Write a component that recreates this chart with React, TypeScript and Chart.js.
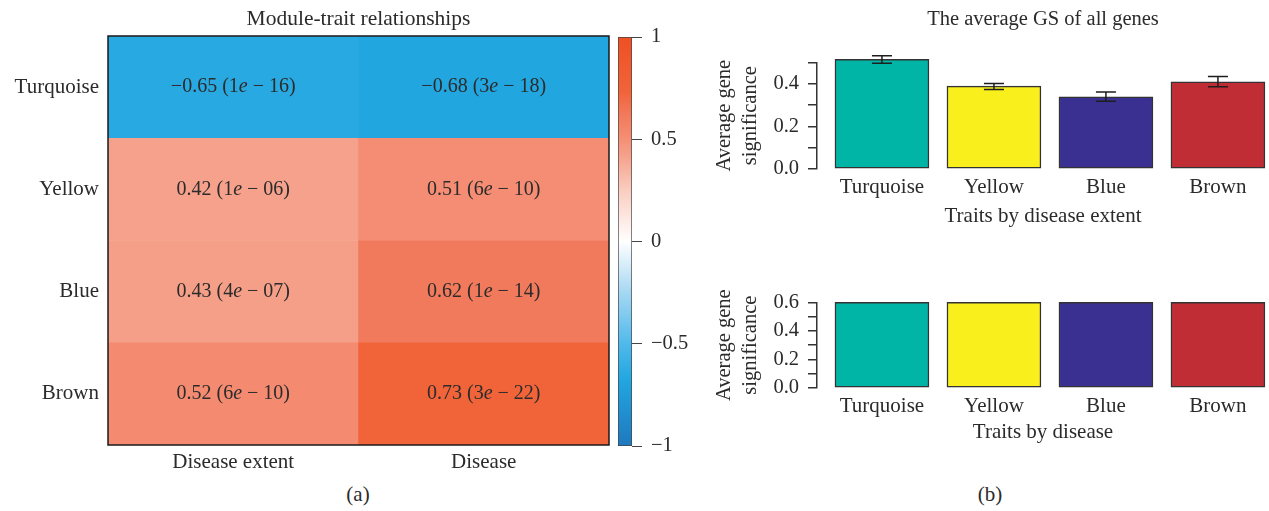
import React, { useEffect, useRef } from 'react';
import { Chart, registerables } from 'chart.js';

Chart.register(...registerables);

const FONT = "'Liberation Serif', 'Times New Roman', serif";
const TEXT = '#2b2b2b';

// ---------- heatmap data ----------
const heatRows = ['Turquoise', 'Yellow', 'Blue', 'Brown'];
const heatCols = ['Disease extent', 'Disease'];
const corrExtent = [-0.65, 0.42, 0.43, 0.52];
const corrDisease = [-0.68, 0.51, 0.62, 0.73];
const pExtent = ['1e-16', '1e-06', '4e-07', '6e-10'];
const pDisease = ['3e-18', '6e-10', '1e-14', '3e-22'];

// ---------- colour scale ----------
const cbarMin = -1;
const cbarMax = 1;
const cbarStep = 0.5;
const cmapStops = [-1, -0.68, -0.65, -0.5, -0.25, 0, 0.25, 0.42, 0.52, 0.62, 0.73, 1];
const cmapColors = [
  [31, 120, 190], [34, 166, 224], [41, 169, 225], [80, 185, 235], [165, 215, 242],
  [255, 255, 255], [250, 205, 192], [245, 161, 139], [244, 139, 112], [242, 122, 92],
  [241, 100, 58], [238, 80, 35],
];

// ---------- bar chart data ----------
const modules = ['Turquoise', 'Yellow', 'Blue', 'Brown'];
const moduleColors = ['#00B5A6', '#F9EF1C', '#3A3091', '#C02D34'];
const gsExtent = [0.514, 0.388, 0.338, 0.409];
const gsExtentLow = [0.496, 0.372, 0.317, 0.386];
const gsExtentHigh = [0.531, 0.401, 0.361, 0.433];
const gsDisease = [0.6, 0.6, 0.6, 0.6];

function cmap(v: number): string {
  const x = Math.max(cmapStops[0], Math.min(cmapStops[cmapStops.length - 1], v));
  for (let i = 0; i < cmapStops.length - 1; i++) {
    const a = cmapStops[i], b = cmapStops[i + 1];
    if (x >= a && x <= b) {
      const t = b === a ? 0 : (x - a) / (b - a);
      const c = cmapColors[i].map((c0, k) => Math.round(c0 + (cmapColors[i + 1][k] - c0) * t));
      return `rgb(${c[0]},${c[1]},${c[2]})`;
    }
  }
  return 'rgb(255,255,255)';
}

function fmtSigned(v: number, digits: number): string {
  const s = Math.abs(v).toFixed(digits);
  return v < 0 ? '\u2212' + s : s;
}

const cellTextPlugin = {
  id: 'cellText',
  afterDatasetsDraw(chart: any) {
    const ctx = chart.ctx;
    const normal = `20px ${FONT}`;
    const italic = `italic 20px ${FONT}`;
    chart.data.datasets.forEach((ds: any, di: number) => {
      const meta = chart.getDatasetMeta(di);
      meta.data.forEach((el: any, ci: number) => {
        const lab = ds.cellLabels[ci];
        const [mant, exp] = lab.p.split('e-');
        const p1 = `${fmtSigned(lab.r, 2)} (${mant}`;
        const p2 = 'e';
        const p3 = ` \u2212 ${exp})`;
        ctx.save();
        ctx.textBaseline = 'middle';
        ctx.fillStyle = TEXT;
        ctx.font = normal;
        const w1 = ctx.measureText(p1).width;
        const w3 = ctx.measureText(p3).width;
        ctx.font = italic;
        const w2 = ctx.measureText(p2).width;
        const total = w1 + w2 + w3;
        const cy = (el.y + el.base) / 2;
        let x = el.x - total / 2;
        ctx.textAlign = 'left';
        ctx.font = normal;
        ctx.fillText(p1, x, cy);
        x += w1;
        ctx.font = italic;
        ctx.fillText(p2, x, cy);
        x += w2;
        ctx.font = normal;
        ctx.fillText(p3, x, cy);
        ctx.restore();
      });
    });
  },
};

const frameBorderPlugin = {
  id: 'frameBorder',
  afterDraw(chart: any) {
    const { ctx, chartArea: a } = chart;
    ctx.save();
    ctx.strokeStyle = '#1a1a1a';
    ctx.lineWidth = 1.5;
    ctx.strokeRect(a.left, a.top, a.right - a.left, a.bottom - a.top);
    ctx.restore();
  },
};

function makeErrorBars(low: number[], high: number[]) {
  return {
    id: 'errorBars',
    afterDatasetsDraw(chart: any) {
      const ctx = chart.ctx;
      const ys = chart.scales.y;
      const meta = chart.getDatasetMeta(0);
      ctx.save();
      ctx.strokeStyle = '#1e1e1e';
      ctx.lineWidth = 1.5;
      meta.data.forEach((el: any, i: number) => {
        const yl = ys.getPixelForValue(low[i]);
        const yh = ys.getPixelForValue(high[i]);
        const x = el.x;
        const cap = 10;
        ctx.beginPath();
        ctx.moveTo(x, yl);
        ctx.lineTo(x, yh);
        ctx.moveTo(x - cap, yl);
        ctx.lineTo(x + cap, yl);
        ctx.moveTo(x - cap, yh);
        ctx.lineTo(x + cap, yh);
        ctx.stroke();
      });
      ctx.restore();
    },
  };
}

function barOptions(opts: {
  max: number;
  title?: string;
  titlePad?: { top: number; bottom: number };
  padTop: number;
  xTitle: string;
  xTitlePadBottom: number;
  xHeight: number;
}): any {
  return {
    responsive: false,
    animation: false,
    devicePixelRatio: 1,
    layout: { padding: { top: opts.padTop, left: 0, right: 0, bottom: 0 }, autoPadding: false },
    plugins: {
      legend: { display: false },
      tooltip: { enabled: false },
      title: opts.title
        ? {
            display: true,
            text: opts.title,
            fullSize: false,
            color: TEXT,
            font: { family: FONT, size: 20.5, weight: 'normal', lineHeight: 1.2 },
            padding: opts.titlePad,
          }
        : { display: false },
    },
    scales: {
      x: {
        type: 'linear',
        offset: false,
        min: -0.58,
        max: 3.456,
        grid: { display: false, offset: false, drawTicks: false },
        border: { display: false },
        afterBuildTicks: (s: any) => {
          s.ticks = modules.map((_, i) => ({ value: i }));
        },
        afterFit: (s: any) => {
          s.height = opts.xHeight;
          s.paddingLeft = 0;
          s.paddingRight = 0;
        },
        ticks: {
          autoSkip: false,
          maxRotation: 0,
          padding: 6,
          color: TEXT,
          font: { family: FONT, size: 21, lineHeight: 1.2 },
          callback: (v: number) => modules[Math.round(v)] ?? '',
        },
        title: {
          display: true,
          text: opts.xTitle,
          color: TEXT,
          font: { family: FONT, size: 21, lineHeight: 1.2 },
          padding: { top: 0, bottom: opts.xTitlePadBottom },
        },
      },
      y: {
        min: 0,
        max: opts.max,
        grid: {
          display: true,
          drawOnChartArea: false,
          drawTicks: true,
          tickLength: 9,
          color: '#333',
          lineWidth: 1.5,
        },
        border: { display: true, color: '#333', width: 1.5 },
        afterFit: (s: any) => {
          s.width = 117;
        },
        ticks: {
          stepSize: 0.1,
          autoSkip: false,
          padding: 9,
          color: TEXT,
          font: { family: FONT, size: 20.5 },
          callback: (v: number) => {
            const n = Math.round(v * 10);
            return n % 2 === 0 ? (n / 10).toFixed(1) : '';
          },
        },
        title: {
          display: true,
          text: ['Average gene', 'significance'],
          color: TEXT,
          font: { family: FONT, size: 20.5, lineHeight: 1.27 },
          padding: { top: 12, bottom: 0 },
        },
      },
    },
  };
}

export default function App() {
  const heatRef = useRef<HTMLCanvasElement>(null);
  const cbarRef = useRef<HTMLCanvasElement>(null);
  const bar1Ref = useRef<HTMLCanvasElement>(null);
  const bar2Ref = useRef<HTMLCanvasElement>(null);

  useEffect(() => {
    Chart.defaults.font.family = FONT;
    Chart.defaults.color = TEXT;
    const charts: Chart[] = [];

    // ---------- heatmap ----------
    const heatDatasets = heatRows
      .map((_, row) => row)
      .reverse()
      .map((row) => ({
        label: heatRows[row],
        data: heatCols.map(() => 1),
        backgroundColor: [cmap(corrExtent[row]), cmap(corrDisease[row])],
        borderWidth: 0,
        barPercentage: 1,
        categoryPercentage: 1,
        stack: 'cells',
        cellLabels: [
          { r: corrExtent[row], p: pExtent[row] },
          { r: corrDisease[row], p: pDisease[row] },
        ],
      }));

    charts.push(
      new Chart(heatRef.current as HTMLCanvasElement, {
        type: 'bar',
        data: { labels: heatCols, datasets: heatDatasets as any },
        options: {
          responsive: false,
          animation: false,
          devicePixelRatio: 1,
          layout: { padding: { top: 0, left: 0, right: 11, bottom: 0 }, autoPadding: false },
          plugins: {
            legend: { display: false },
            tooltip: { enabled: false },
            title: {
              display: true,
              text: 'Module-trait relationships',
              fullSize: false,
              color: TEXT,
              font: { family: FONT, size: 21.5, weight: 'normal', lineHeight: 1.2 },
              padding: { top: 6, bottom: 4.2 },
            },
          },
          scales: {
            x: {
              stacked: true,
              grid: { display: false, drawTicks: false },
              border: { display: false },
              afterFit: (s: any) => {
                s.height = 35;
              },
              ticks: { padding: 5, color: TEXT, font: { family: FONT, size: 21, lineHeight: 1.2 } },
            },
            y: {
              stacked: true,
              min: 0,
              max: heatRows.length,
              grid: { display: false, drawTicks: false },
              border: { display: false },
              afterBuildTicks: (s: any) => {
                s.ticks = heatRows.map((_, i) => ({ value: i + 0.5 }));
              },
              afterFit: (s: any) => {
                s.width = 108;
              },
              ticks: {
                autoSkip: false,
                padding: 9,
                color: TEXT,
                font: { family: FONT, size: 21 },
                callback: (v: number) => heatRows[heatRows.length - 1 - Math.floor(v)],
              },
            },
          },
        } as any,
        plugins: [cellTextPlugin, frameBorderPlugin],
      })
    );

    // ---------- colour bar ----------
    charts.push(
      new Chart(cbarRef.current as HTMLCanvasElement, {
        type: 'bar',
        data: {
          labels: [''],
          datasets: [
            {
              data: [[cbarMin, cbarMax]] as any,
              backgroundColor: (c: any) => {
                const area = c.chart.chartArea;
                if (!area) return 'white';
                const g = c.chart.ctx.createLinearGradient(0, area.bottom, 0, area.top);
                cmapStops.forEach((s, i) => {
                  const col = cmapColors[i];
                  g.addColorStop((s - cbarMin) / (cbarMax - cbarMin), `rgb(${col[0]},${col[1]},${col[2]})`);
                });
                return g;
              },
              borderColor: '#444',
              borderWidth: 1,
              borderSkipped: false,
              barPercentage: 1,
              categoryPercentage: 1,
            },
          ],
        },
        options: {
          responsive: false,
          animation: false,
          devicePixelRatio: 1,
          layout: { padding: { top: 37, left: 8, right: 0, bottom: 34 }, autoPadding: false },
          plugins: { legend: { display: false }, tooltip: { enabled: false } },
          scales: {
            x: { display: false },
            y: {
              position: 'right',
              min: cbarMin,
              max: cbarMax,
              grid: { display: true, drawOnChartArea: false, tickLength: 10, color: '#444', lineWidth: 1 },
              border: { display: false },
              afterFit: (s: any) => {
                s.width = 58;
              },
              ticks: {
                stepSize: cbarStep,
                padding: 9,
                color: TEXT,
                font: { family: FONT, size: 20.5 },
                callback: (v: number) => (v === 0 ? '0' : (v < 0 ? '\u2212' : '') + String(Math.abs(v))),
              },
            },
          },
        } as any,
      })
    );

    // ---------- bar chart: disease extent ----------
    charts.push(
      new Chart(bar1Ref.current as HTMLCanvasElement, {
        type: 'bar',
        data: {
          datasets: [
            {
              data: modules.map((_, i) => ({ x: i, y: gsExtent[i] })),
              backgroundColor: moduleColors,
              borderColor: '#333',
              borderWidth: 1.5,
              borderSkipped: false,
              barThickness: 94,
              clip: false,
            } as any,
          ],
        },
        options: barOptions({
          max: 0.5,
          title: 'The average GS of all genes',
          titlePad: { top: 7.5, bottom: 30.2 },
          padTop: 0,
          xTitle: 'Traits by disease extent',
          xTitlePadBottom: 11,
          xHeight: 71,
        }),
        plugins: [makeErrorBars(gsExtentLow, gsExtentHigh)],
      })
    );

    // ---------- bar chart: disease ----------
    charts.push(
      new Chart(bar2Ref.current as HTMLCanvasElement, {
        type: 'bar',
        data: {
          datasets: [
            {
              data: modules.map((_, i) => ({ x: i, y: gsDisease[i] })),
              backgroundColor: moduleColors,
              borderColor: '#333',
              borderWidth: 1.5,
              borderSkipped: false,
              barThickness: 94,
              clip: false,
            } as any,
          ],
        },
        options: barOptions({
          max: 0.6,
          padTop: 62.3,
          xTitle: 'Traits by disease',
          xTitlePadBottom: 15,
          xHeight: 72,
        }),
      })
    );

    return () => charts.forEach((c) => c.destroy());
  }, []);

  const abs = (left: number, top: number): React.CSSProperties => ({
    position: 'absolute',
    left,
    top,
    display: 'block',
  });

  const caption = (cx: number, cy: number, text: string) => (
    <div
      style={{
        position: 'absolute',
        left: cx - 50,
        top: cy - 12,
        width: 100,
        textAlign: 'center',
        font: `21px/24px ${FONT}`,
        color: TEXT,
      }}
    >
      {text}
    </div>
  );

  return (
    <div
      style={{
        position: 'absolute',
        left: 0,
        top: 0,
        width: 1269,
        height: 511,
        background: '#fff',
        overflow: 'hidden',
      }}
    >
      <canvas ref={heatRef} width={620} height={480} style={abs(0, 0)} />
      <canvas ref={cbarRef} width={80} height={480} style={abs(610, 0)} />
      <canvas ref={bar1Ref} width={569} height={240} style={abs(700, 0)} />
      <canvas ref={bar2Ref} width={569} height={220} style={abs(700, 240)} />
      {caption(358, 494, '(a)')}
      {caption(990, 494, '(b)')}
    </div>
  );
}
